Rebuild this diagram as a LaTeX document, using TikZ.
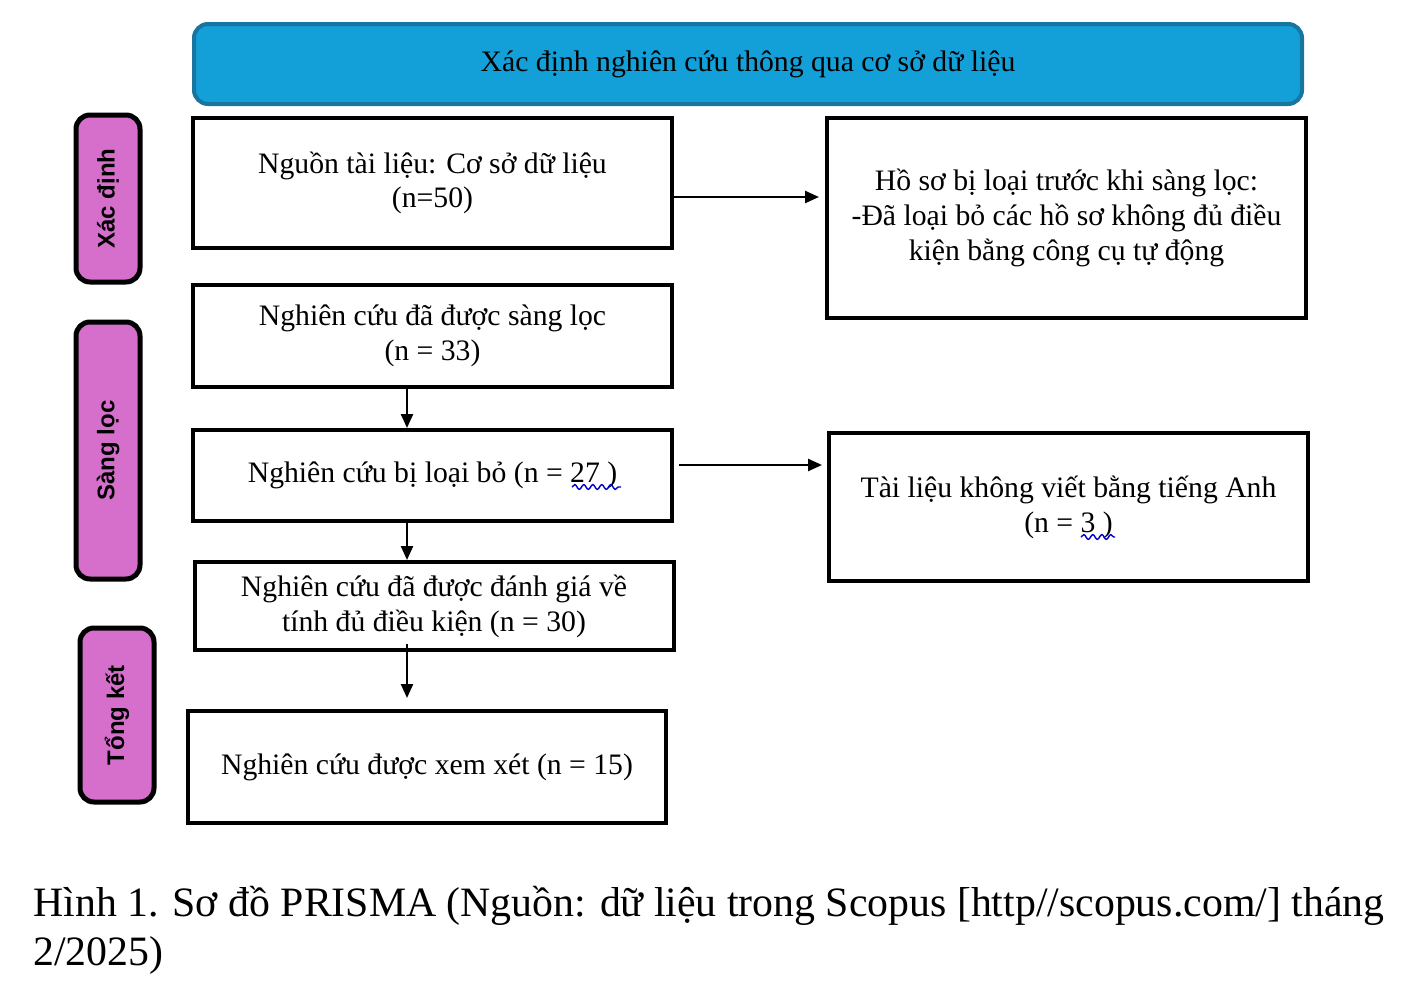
\documentclass[tikz,border=0pt]{standalone}
\usepackage{fontspec}
\setmainfont{Liberation Serif}
\newfontfamily\lblfont{Liberation Sans}
\usetikzlibrary{shapes,arrows.meta,decorations.pathmorphing}
\definecolor{bannerblue}{HTML}{139FD8}
\definecolor{bannerline}{HTML}{17759F}
\definecolor{stagepink}{HTML}{D56FCB}
\tikzstyle{bx}=[rectangle,draw=black,line width=2pt,align=center,inner sep=2pt,font=\fontsize{14.85}{17.4}\selectfont,minimum width=239.5pt]
\tikzstyle{stage}=[rectangle,rounded corners=7pt,draw=black,line width=2.5pt,fill=stagepink,rotate=90,inner sep=0pt,font=\lblfont\bfseries\fontsize{12}{14}\selectfont]
\tikzstyle{arr}=[line width=1.2pt,-{Triangle[length=7pt,width=6pt]}]
\tikzstyle{spell}=[blue!80!black,line width=.7pt,decorate,decoration={snake,amplitude=1.2pt,segment length=4.5pt}]

\begin{document}
\begin{tikzpicture}[x=.5pt,y=-.5pt]
\useasboundingbox (0,0) rectangle (1407,1001);
% banner
\node[rectangle,rounded corners=7pt,draw=bannerline,line width=2pt,fill=bannerblue,minimum width=554pt,minimum height=40pt,font=\fontsize{14.85}{17.4}\selectfont] (banner) at (748,64) {Xác định nghiên cứu thông qua cơ sở dữ liệu};
% stages
\node[stage,minimum width=83.5pt,minimum height=32pt] (s1) at (108,198.5) {Xác định};
\node[stage,minimum width=128.5pt,minimum height=32pt] (s2) at (108,450.5) {Sàng lọc};
\node[stage,minimum width=87pt,minimum height=37pt] (s3) at (117,715) {Tổng kết};
% boxes
\node[bx,minimum height=65pt] (src) at (432.5,183) {Nguồn tài liệu: Cơ sở dữ liệu\\(n=50)};
\node[bx,minimum height=100pt] (excl) at (1066.5,218) {Hồ sơ bị loại trước khi sàng lọc:\\-Đã loại bỏ các hồ sơ không đủ điều\\kiện bằng công cụ tự động};
\node[bx,minimum height=51pt] (scr) at (432.5,336) {Nghiên cứu đã được sàng lọc\\(n = 33)};
\node[bx,minimum height=45.5pt] (rem) at (432.5,475.5) {Nghiên cứu bị loại bỏ (n = 27 )};
\node[bx,minimum height=74pt] (lang) at (1068.5,507) {Tài liệu không viết bằng tiếng Anh\\(n = 3 )};
\node[bx,minimum height=44pt] (elig) at (434,606) {Nghiên cứu đã được đánh giá về\\tính đủ điều kiện (n = 30)};
\node[bx,minimum height=56pt,minimum width=239pt] (incl) at (427,767) {Nghiên cứu được xem xét (n = 15)};
% arrows
\draw[arr,shorten >=3pt] ([yshift=-7pt]src.east) -- ([yshift=-7pt]src.east -| excl.west);
\draw[arr] ([xshift=-12.75pt]scr.south) -- ([xshift=-12.75pt]rem.north);
\draw[arr,shorten >=2.5pt] ([xshift=2.5pt,yshift=5.25pt]rem.east) -- ([yshift=5.25pt]rem.east -| lang.west);
\draw[arr] ([xshift=-12.75pt]rem.south) -- ([xshift=-12.75pt]rem.south |- elig.north);
\draw[arr,shorten >=1.5pt] ([xshift=-13.5pt,yshift=4pt]elig.south) -- ([xshift=-13.5pt,yshift=4pt]elig.south |- incl.north);
% spell marks
\draw[spell] (572,487) -- (621,487); \draw[spell] (1081,537) -- (1115,537);
% caption
\node[anchor=north west,inner sep=0pt,align=left,font=\fontsize{20.9}{24.2}\selectfont] (cap) at (33,886) {Hình 1. Sơ đồ PRISMA (Nguồn: dữ liệu trong Scopus [http//scopus.com/] tháng\\2/2025)};
\end{tikzpicture}
\end{document}
